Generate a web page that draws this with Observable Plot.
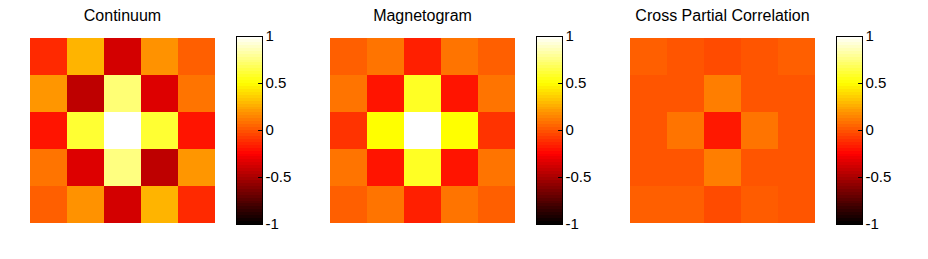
<!DOCTYPE html>
<html>
<head>
<meta charset="utf-8">
<script src="https://cdn.jsdelivr.net/npm/d3@7"></script>
<script src="https://cdn.jsdelivr.net/npm/@observablehq/plot@0.6"></script>
<style>
  html, body { margin: 0; padding: 0; background: #fff; }
  #root { position: relative; width: 928px; height: 259px; overflow: hidden; font-family: "Liberation Sans", Arial, sans-serif; }
  .part { position: absolute; top: 0; }
</style>
</head>
<body>
<div id="root"></div>
<script>
const titles = ["Continuum", "Magnetogram", "Cross Partial Correlation"];
const continuum = [
  [-0.13, 0.28, -0.38, 0.18, 0.03],
  [0.19, -0.44, 0.73, -0.35, 0.09],
  [-0.19, 0.60, 1.00, 0.60, -0.19],
  [0.09, -0.35, 0.75, -0.44, 0.19],
  [0.03, 0.18, -0.38, 0.28, -0.13]
];
const magnetogram = [
  [0.03, 0.09, -0.16, 0.09, 0.03],
  [0.09, -0.19, 0.57, -0.19, 0.09],
  [-0.10, 0.50, 1.00, 0.50, -0.10],
  [0.09, -0.19, 0.57, -0.19, 0.09],
  [0.03, 0.09, -0.16, 0.09, 0.03]
];
const crossPartial = [
  [0.03, 0.00, -0.03, 0.00, 0.03],
  [0.00, 0.00, 0.12, 0.00, 0.00],
  [0.00, 0.09, -0.18, 0.09, 0.00],
  [0.00, 0.00, 0.12, 0.00, 0.00],
  [0.03, 0.03, -0.03, 0.02, 0.00]
];
const matrices = [continuum, magnetogram, crossPartial];
const colorTicks = [-1, -0.5, 0, 0.5, 1];
const panelOffsets = [0, 300, 600];

const colorScale = {
  type: "linear",
  domain: [-1, -0.25, 0.5, 1],
  range: ["#000000", "#ff0000", "#ffff00", "#ffffff"],
  interpolate: "rgb",
  clamp: true
};

const root = document.getElementById("root");
const FONT = "Liberation Sans, Arial, sans-serif";

matrices.forEach((m, k) => {
  const cells = [];
  m.forEach((row, r) => row.forEach((v, c) => cells.push({row: r, col: c, value: v})));
  const heat = Plot.plot({
    width: 216, height: 259,
    marginLeft: 28, marginRight: 0, marginTop: 36, marginBottom: 35,
    style: {fontFamily: FONT, fontSize: "16px", background: "transparent"},
    x: {type: "band", domain: d3.range(5), padding: 0, axis: null},
    y: {type: "band", domain: d3.range(5), padding: 0, axis: null},
    color: colorScale,
    marks: [
      Plot.cell(cells, {x: "col", y: "row", fill: "value", inset: 0, shapeRendering: "crispEdges"}),
      Plot.text([titles[k]], {frameAnchor: "top", dy: -16, text: d => d, fontSize: 16, fontWeight: "normal", fill: "#000", lineAnchor: "bottom"})
    ]
  });
  const hDiv = document.createElement("div");
  hDiv.className = "part";
  hDiv.style.left = panelOffsets[k] + "px";
  hDiv.appendChild(heat);
  root.appendChild(hDiv);

  const n = 64;
  const bands = d3.range(n).map(i => ({y1: -1 + i * 2 / n, y2: -1 + (i + 1) * 2 / n, v: -1 + (i + 0.5) * 2 / n}));
  const bar = Plot.plot({
    width: 70, height: 259,
    marginLeft: 0, marginRight: 44, marginTop: 36, marginBottom: 35,
    style: {fontFamily: FONT, fontSize: "15px", background: "transparent", overflow: "visible"},
    x: {domain: [0, 1], axis: null},
    y: {domain: [-1, 1], axis: null},
    color: colorScale,
    marks: [
      Plot.rect(bands, {x1: 0, x2: 1, y1: "y1", y2: "y2", fill: "v", inset: 0, shapeRendering: "crispEdges"}),
      Plot.ruleY(colorTicks.slice(1, -1), {x1: 0.85, x2: 1, stroke: "#000", strokeWidth: 1}),
      Plot.frame({stroke: "#000"}),
      Plot.axisY(colorTicks, {anchor: "right", tickSize: 0, tickPadding: 3, tickFormat: d => String(d), fontSize: 15, fill: "#000"})
    ]
  });
  const bDiv = document.createElement("div");
  bDiv.className = "part";
  bDiv.style.left = (panelOffsets[k] + 236) + "px";
  bDiv.appendChild(bar);
  root.appendChild(bDiv);
});
</script>
</body>
</html>
